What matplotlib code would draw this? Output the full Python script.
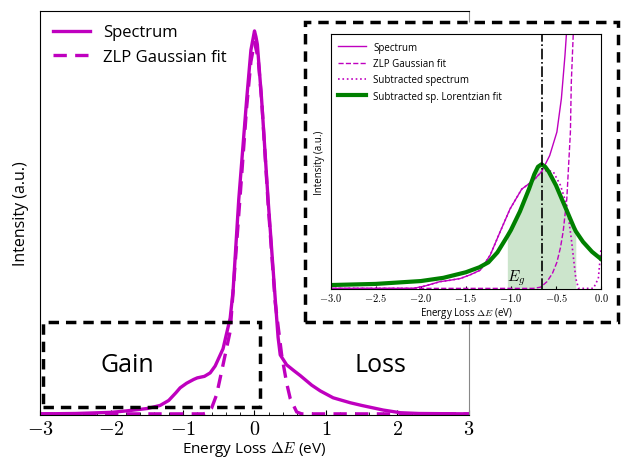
import matplotlib
matplotlib.use("Agg")
import matplotlib.pyplot as plt
from matplotlib.patches import Rectangle
from matplotlib.ticker import MultipleLocator

plt.rcParams['mathtext.fontset'] = 'cm'
plt.rcParams['font.family'] = ['Open Sans', 'DejaVu Sans']

# main panel: full spectrum and ZLP fit (normalised intensity)
spec_x = [-3.0, -2.5, -2.0, -1.78, -1.5, -1.32, -1.2, -1.1, -1.04, -0.95, -0.85, -0.8,
          -0.7, -0.62, -0.55, -0.44, -0.34, -0.3, -0.22, -0.11, -0.05, 0.0, 0.02, 0.04,
          0.1, 0.19, 0.29, 0.33, 0.36, 0.45, 0.55, 0.64, 0.8, 0.92, 1.1, 1.34, 1.5,
          1.8, 2.04, 2.3, 3.0]
spec_y = [0.0, 0.001, 0.004, 0.008, 0.014, 0.022, 0.035, 0.055, 0.068, 0.08, 0.09, 0.094,
          0.098, 0.107, 0.125, 0.17, 0.25, 0.32, 0.56, 0.82, 0.95, 1.0, 0.985, 0.965,
          0.82, 0.56, 0.30, 0.20, 0.154, 0.128, 0.113, 0.10, 0.075, 0.06, 0.042, 0.029,
          0.022, 0.01, 0.003, 0.001, 0.0]
zlp_x = [-3.0, -0.72, -0.67, -0.6, -0.53, -0.44, -0.34, -0.22, -0.11, -0.05, 0.0,
         0.05, 0.1, 0.19, 0.29, 0.38, 0.45, 0.5, 0.59, 0.66, 3.0]
zlp_y = [0.0, 0.0, 0.002, 0.015, 0.05, 0.128, 0.216, 0.52, 0.80, 0.92, 0.97,
         0.93, 0.82, 0.55, 0.29, 0.154, 0.08, 0.04, 0.005, 0.0, 0.0]

# inset: zoom on the gain side (inset intensity units)
in_spec_x = [-3.0, -2.08, -1.95, -1.79, -1.68, -1.56, -1.45, -1.34, -1.23, -1.12, -1.01,
             -0.88, -0.75, -0.66, -0.57, -0.49, -0.44, -0.40, -0.37]
in_spec_y = [0.0, 0.0, 0.02, 0.054, 0.065, 0.08, 0.11, 0.147, 0.268, 0.456, 0.64,
             0.80, 0.87, 0.94, 1.07, 1.26, 1.53, 1.88, 2.2]
in_zlp_x = [-3.0, -0.75, -0.67, -0.60, -0.54, -0.49, -0.45, -0.42, -0.38, -0.34,
            -0.33, -0.30]
in_zlp_y = [0.0, 0.0, 0.01, 0.054, 0.12, 0.21, 0.33, 0.46, 0.72, 1.26, 1.66, 2.2]
sub_x = [-3.0, -2.08, -1.95, -1.79, -1.68, -1.56, -1.45, -1.34, -1.23, -1.12, -1.01,
         -0.88, -0.75, -0.66, -0.6, -0.53, -0.45, -0.38, -0.33, -0.28, -0.25, -0.085,
         -0.03, 0.0]
sub_y = [0.0, 0.0, 0.02, 0.054, 0.065, 0.08, 0.11, 0.147, 0.268, 0.456, 0.64,
         0.80, 0.87, 0.94, 0.95, 0.94, 0.83, 0.67, 0.40, 0.08, 0.0, 0.0,
         0.08, 0.32]
lor_x = [-3.0, -2.5, -2.0, -1.75, -1.5, -1.35, -1.25, -1.15, -1.04, -1.0, -0.9,
         -0.8, -0.74, -0.7, -0.66, -0.62, -0.58, -0.5, -0.4, -0.3, -0.28, -0.2, -0.1, 0.0]
lor_y = [0.027, 0.036, 0.059, 0.085, 0.13, 0.17, 0.21, 0.29, 0.42, 0.47, 0.62,
         0.80, 0.92, 0.98, 1.0, 0.98, 0.94, 0.83, 0.66, 0.49, 0.46, 0.375, 0.295, 0.236]
gap_lo, gap_hi = -1.04, -0.28
eg = -0.66

fig = plt.figure(figsize=(6.22, 4.64), dpi=100)
ax = fig.add_axes([0.0643, 0.1034, 0.6897, 0.8707])

ax.plot(spec_x, spec_y, color='m', lw=2.4, label='Spectrum')
ax.plot(zlp_x, zlp_y, color='m', lw=2.4, ls=(0, (4, 2.5)), label='ZLP Gaussian fit')
ax.set_xlim(-3, 3)
ax.set_ylim(-0.003, 1.052)
ax.set_yticks([])
ax.set_xticks(range(-3, 4), labels=[f'${v}$' for v in range(-3, 4)], fontsize=14.5)
ax.xaxis.set_minor_locator(MultipleLocator(0.2))
ax.tick_params(axis='x', which='both', direction='in', pad=3)
ax.spines['right'].set_color('#888888')
ax.set_xlabel(r'Energy Loss $\Delta E$ (eV)', fontsize=11, labelpad=0)
ax.set_ylabel('Intensity (a.u.)', fontsize=11.5, labelpad=8)
ax.legend(loc='upper left', frameon=False, fontsize=12, handlelength=2.2,
          borderaxespad=0.4)

# Gain / Loss regions
ax.add_patch(Rectangle((-2.96, 0.018), 3.04, 0.222, fill=False, ec='black', lw=2.5,
                       ls=(0, (3, 2)), zorder=5))
ax.text(-1.78, 0.13, 'Gain', fontsize=18, ha='center', va='center')
ax.text(1.76, 0.13, 'Loss', fontsize=18, ha='center', va='center')

# inset frame
fig.patches.append(Rectangle((0.4904, 0.3039), 0.5032, 0.6465, transform=fig.transFigure,
                             fc='white', ec='black', lw=2.5, ls=(0, (3, 2)), zorder=10))

ins = fig.add_axes([0.5317, 0.375, 0.4346, 0.5496], zorder=11)
ins.fill_between([x for x in lor_x if gap_lo <= x <= gap_hi],
                 [y for x, y in zip(lor_x, lor_y) if gap_lo <= x <= gap_hi],
                 color='green', alpha=0.2, lw=0)
ins.plot(in_spec_x, in_spec_y, color='m', lw=1.0, label='Spectrum')
ins.plot(in_zlp_x, in_zlp_y, color='m', lw=1.0, ls='--', label='ZLP Gaussian fit')
ins.plot(sub_x, sub_y, color='m', lw=1.2, ls=':', label='Subtracted spectrum')
ins.plot(lor_x, lor_y, color='green', lw=3, label='Subtracted sp. Lorentzian fit')
ins.axvline(eg, color='black', lw=1.2, ls='-.')
ins.text(-0.94, 0.09, '$E_g$', fontsize=11, ha='center', va='center')
ins.set_xlim(-3, 0)
ins.set_ylim(-0.005, 2.05)
ins.set_yticks([])
ins_ticks = [-3.0, -2.5, -2.0, -1.5, -1.0, -0.5, 0.0]
ins.set_xticks(ins_ticks, labels=[f'${v:.1f}$' for v in ins_ticks], fontsize=7.5)
ins.tick_params(axis='x', direction='in', length=2.5, pad=2)
ins.set_xlabel(r'Energy Loss $\Delta E$ (eV)', fontsize=7, labelpad=1)
ins.set_ylabel('Intensity (a.u.)', fontsize=7, labelpad=4)
ins.legend(loc='upper left', frameon=False, fontsize=7, handlelength=2.8,
           borderaxespad=0.4, labelspacing=0.55)

fig.savefig('out.png', dpi=100)
